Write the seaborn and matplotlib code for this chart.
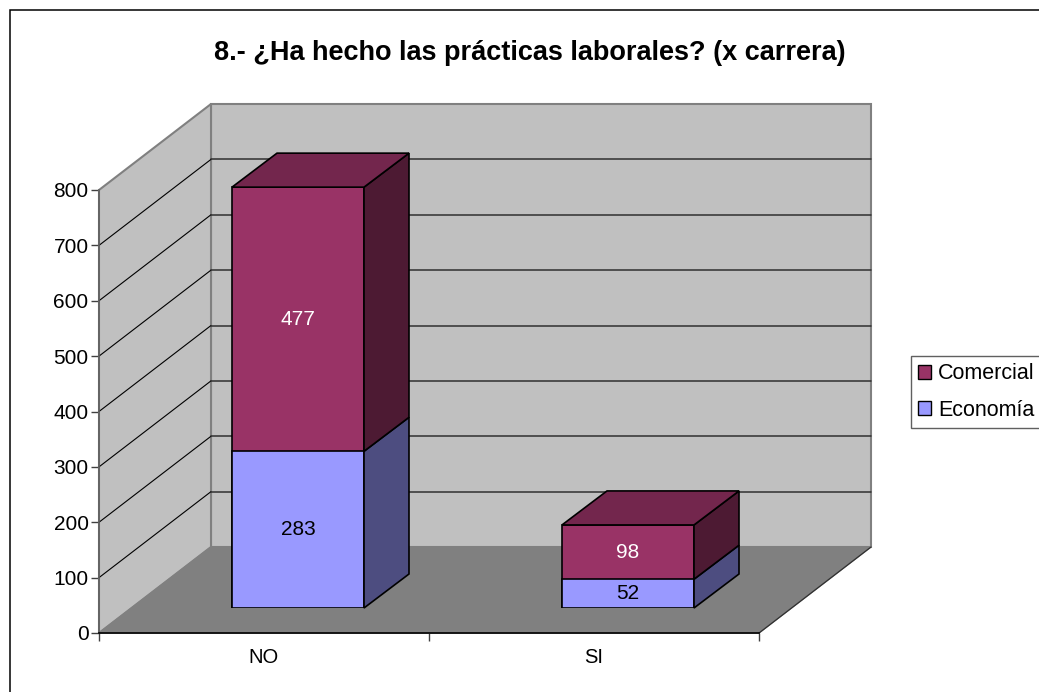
import matplotlib
matplotlib.use("Agg")
import matplotlib.pyplot as plt
import seaborn as sns
from matplotlib.patches import Polygon, Patch, Rectangle

# datos
carreras = ["NO", "SI"]
economia = [283, 52]
comercial = [477, 98]
niveles = [0, 100, 200, 300, 400, 500, 600, 700, 800]

sns.set_style("white")
plt.rcParams["font.family"] = ["Liberation Sans", "DejaVu Sans"]
plt.rcParams["text.color"] = "black"
plt.rcParams["xtick.labelcolor"] = "black"
plt.rcParams["ytick.labelcolor"] = "black"

W, H = 1039, 692
fig = plt.figure(figsize=(W / 100, H / 100), dpi=100)


def caja(x, y, w, h):
    # pixeles de la imagen (y hacia abajo, y = borde inferior) a fraccion de figura
    return [x / W, 1 - y / H, w / W, h / H]


# marco exterior, se sale por la derecha y por abajo
fig.add_artist(Rectangle((10 / W, -0.05), 1.1, 1 - 10 / H + 0.05, transform=fig.transFigure,
                         fill=False, ec="black", lw=1.1))

ax = fig.add_axes(caja(99, 633, 660, 443))
ax.set_xlim(-0.5, 1.5)
ax.set_ylim(0, 800)
ax.patch.set_visible(False)

# profundidad del grafico en unidades de datos
px_x = 330
px_y = 443 / 800
fx, fy = 112 / px_x, 86 / px_y
x0, x1 = -0.5, 1.5

ax.add_patch(Polygon([(x0 + fx, fy), (x1 + fx, fy), (x1 + fx, 800 + fy), (x0 + fx, 800 + fy)],
                     fc="#C0C0C0", ec="#808080", lw=1.5, clip_on=False, zorder=1))
ax.add_patch(Polygon([(x0, 0), (x0 + fx, fy), (x0 + fx, 800 + fy), (x0, 800)],
                     fc="#C0C0C0", ec="#808080", lw=1.5, clip_on=False, zorder=1))
ax.add_patch(Polygon([(x0, 0), (x1, 0), (x1 + fx, fy), (x0 + fx, fy)],
                     fc="#808080", ec="#808080", lw=1, clip_on=False, zorder=1.5))
for v in niveles[1:-1]:
    ax.plot([x0, x0 + fx], [v, v + fy], color="black", lw=0.8, clip_on=False, zorder=2)
    ax.plot([x0 + fx, x1 + fx], [v + fy, v + fy], color="#303030", lw=1.1, clip_on=False, zorder=2)
ax.plot([x1, x1 + fx], [0, fy], color="#303030", lw=0.9, clip_on=False, zorder=2)

ax.set_yticks(niveles)
ax.set_xticks([-0.5, 0.5, 1.5])
ax.set_xticklabels([])
ax.set_xticks([0, 1], labels=carreras, minor=True)
ax.tick_params(axis="both", which="major", length=5.5, width=1, color="#404040", labelsize=15, pad=2, left=True, bottom=True)
ax.tick_params(axis="x", which="minor", length=0, labelsize=14.5, pad=11, bottom=False)
for lado in ["top", "right"]:
    ax.spines[lado].set_visible(False)
ax.spines["left"].set_color("#606060")
ax.spines["left"].set_linewidth(1.2)
ax.spines["bottom"].set_color("black")
ax.spines["bottom"].set_linewidth(1.2)
ax.spines["bottom"].set_zorder(3)

# las barras van en otros ejes, desplazados hacia el fondo
ax2 = fig.add_axes(caja(133, 608, 660, 443))
ax2.patch.set_visible(False)
totales = [a + b for a, b in zip(economia, comercial)]
sns.barplot(x=carreras, y=totales, color="#993366", saturation=1, width=0.4,
            edgecolor="black", linewidth=1.2, ax=ax2, zorder=3)
sns.barplot(x=carreras, y=economia, color="#9999FF", saturation=1, width=0.4,
            edgecolor="black", linewidth=1.2, ax=ax2, zorder=3)
ax2.set_xlim(-0.5, 1.5)
ax2.set_ylim(0, 800)
ax2.axis("off")

bx, by = 45 / px_x, 34 / px_y
for i in range(len(carreras)):
    a = i - 0.2
    b = i + 0.2
    e = economia[i]
    t = totales[i]
    for abajo, arriba, color in [(0, e, "#4D4D80"), (e, t, "#4D1A33")]:
        ax2.add_patch(Polygon([(b, abajo), (b + bx, abajo + by), (b + bx, arriba + by), (b, arriba)],
                              fc=color, ec="black", lw=1.2, clip_on=False, zorder=3))
    ax2.add_patch(Polygon([(a, t), (b, t), (b + bx, t + by), (a + bx, t + by)],
                          fc="#73264D", ec="black", lw=1.2, clip_on=False, zorder=3))
    ax2.text(i, e / 2, str(e), ha="center", va="center", color="black", fontsize=15, zorder=4)
    ax2.text(i, e + comercial[i] / 2, str(comercial[i]), ha="center", va="center", color="white", fontsize=15, zorder=4)

fig.text(530 / W, 1 - 53 / H, "8.- ¿Ha hecho las prácticas laborales? (x carrera)",
         ha="center", va="center", fontsize=19.5, fontweight="bold")

fig.legend(handles=[Patch(fc="#993366", ec="black", label="Comercial"),
                    Patch(fc="#9999FF", ec="black", label="Economía")],
           loc="upper left", bbox_to_anchor=(911 / W, 1 - 356 / H), bbox_transform=fig.transFigure,
           fontsize=15.5, frameon=True, fancybox=False, edgecolor="#606060", framealpha=1,
           borderaxespad=0, handlelength=0.62, handleheight=0.62, handletextpad=0.3,
           labelspacing=0.74, borderpad=0.33)

fig.savefig("out.png", dpi=100)
